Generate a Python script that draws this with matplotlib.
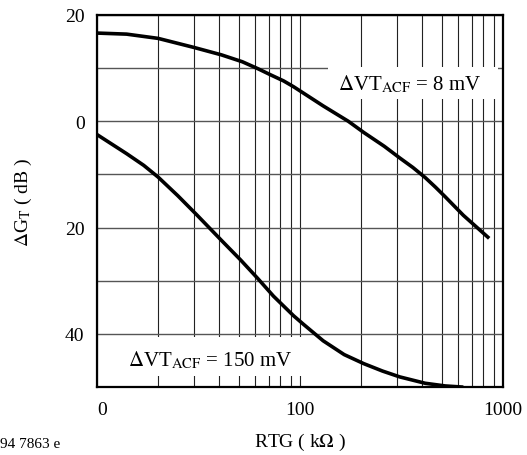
import matplotlib
matplotlib.use("Agg")
import matplotlib.pyplot as plt
from matplotlib.patches import Rectangle
from matplotlib.ticker import FixedLocator, NullFormatter, LogLocator

plt.rcParams['font.family'] = ['Liberation Serif', 'DejaVu Serif']
plt.rcParams['mathtext.fontset'] = 'stix'

# data (RTG in kOhm, delta G_T in dB)
rtg_8mv = [10, 14, 20, 30, 41, 52, 62, 72, 83, 93, 104, 130, 173, 206, 260, 310,
           360, 414, 465, 519, 638, 842]
gain_8mv = [16.6, 16.4, 15.6, 13.9, 12.5, 11.2, 9.9, 8.7, 7.6, 6.5, 5.3, 2.9, 0.0,
            -2.1, -4.7, -6.9, -8.7, -10.6, -12.4, -14.2, -17.7, -21.8]

rtg_150mv = [10, 14, 17, 20, 25, 31, 41, 51, 62, 74, 93, 104, 130, 165, 206, 255,
             310, 414, 519, 625]
gain_150mv = [-2.5, -6.1, -8.3, -10.5, -14.0, -17.6, -22.4, -26.1, -29.6, -32.9,
              -36.6, -38.2, -41.3, -43.9, -45.6, -47.0, -48.1, -49.3, -49.8, -50.0]

yticks = [20, 0, -20, -40]
ytick_labels = ['20', '0', '20', '40']
xticks = [10, 100, 1000]
xtick_labels = ['0', '100', '1000']

fig = plt.figure(figsize=(5.27, 4.56), dpi=100)
ax = fig.add_axes([97 / 527, 68 / 456, 406 / 527, 372 / 456])

ax.set_xscale('log')
ax.set_xlim(10, 1000)
ax.set_ylim(-50, 20)

ax.set_xticks(xticks)
ax.set_xticklabels(xtick_labels, fontsize=14)
ax.xaxis.set_minor_locator(LogLocator(base=10, subs=range(2, 10)))
ax.xaxis.set_minor_formatter(NullFormatter())
ax.set_yticks(yticks)
ax.set_yticklabels(ytick_labels, fontsize=14)
ax.yaxis.set_minor_locator(FixedLocator([10, -10, -30]))
ax.tick_params(which='both', length=0)
ax.tick_params(axis='x', pad=10)
ax.tick_params(axis='y', pad=9)
ax.get_xticklabels()[0].set_horizontalalignment('left')

ax.xaxis.grid(True, which='both', color='#222222', lw=0.8)
ax.yaxis.grid(True, which='both', color='#555555', lw=1.0)
ax.set_axisbelow(True)

for s in ax.spines.values():
    s.set_linewidth(1.6)

# white label boxes that hide the grid
ax.add_patch(Rectangle((0.569, 0.774), 0.419, 0.086, transform=ax.transAxes,
                       facecolor='white', edgecolor='none', zorder=1.5))
ax.add_patch(Rectangle((0.004, 0.03), 0.508, 0.104, transform=ax.transAxes,
                       facecolor='white', edgecolor='none', zorder=1.5))

ax.plot(rtg_8mv, gain_8mv, color='black', lw=2.6, zorder=3)
ax.plot(rtg_150mv, gain_150mv, color='black', lw=2.6, zorder=3)

ax.text(0.594, 0.815, r'$\Delta$VT$_{\mathrm{ACF}}$ = 8 mV', transform=ax.transAxes,
        fontsize=15, va='center', ha='left', zorder=4)
ax.text(0.076, 0.075, r'$\Delta$VT$_{\mathrm{ACF}}$ = 150 mV', transform=ax.transAxes,
        fontsize=15, va='center', ha='left', zorder=4)

ax.set_ylabel(r'$\Delta$G$_{\mathrm{T}}$ ( dB )', fontsize=14, labelpad=22)
ax.set_xlabel(r'RTG ( k$\Omega$ )', fontsize=14, labelpad=9)

fig.text(0.0, 0.025, '94 7863 e', fontsize=11, ha='left', va='center')

fig.savefig('out.png', dpi=100)
